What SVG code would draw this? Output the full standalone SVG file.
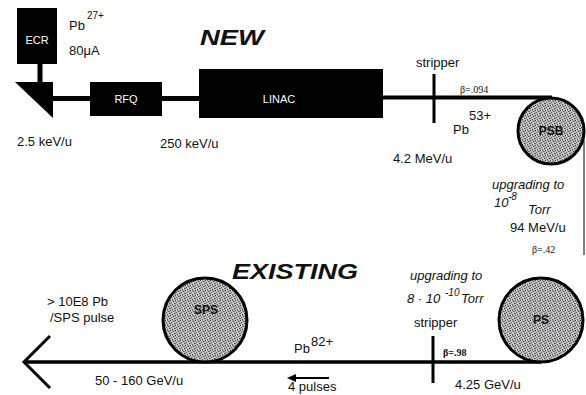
<svg xmlns="http://www.w3.org/2000/svg" width="586" height="395" viewBox="0 0 586 395">
<defs>
<pattern id="stip" width="5" height="5" patternUnits="userSpaceOnUse">
<rect width="5" height="5" fill="#bdbdbd"/>
<rect x="0" y="0" width="1" height="1" fill="#333"/>
<rect x="3" y="1" width="1" height="1" fill="#555"/>
<rect x="1" y="2" width="1" height="1" fill="#666"/>
<rect x="4" y="3" width="1" height="1" fill="#444"/>
<rect x="2" y="4" width="1" height="1" fill="#555"/>
<rect x="2" y="0" width="1" height="1" fill="#777"/>
<rect x="4" y="1" width="1" height="1" fill="#888"/>
<rect x="0" y="3" width="1" height="1" fill="#777"/>
<rect x="3" y="3" width="1" height="1" fill="#e0e0e0"/>
<rect x="1" y="0" width="1" height="1" fill="#e6e6e6"/>
</pattern>
</defs>
<style>
text{font-family:"Liberation Sans",Arial,sans-serif;font-size:13px;fill:#111}
.w{fill:#fff;font-size:11px}
.it{font-style:italic}
.big{font-size:22px;font-weight:bold;font-style:italic}
.sup{font-size:10px}
.ser{font-family:"Liberation Serif","Times New Roman",serif;font-size:10px}
.blk{fill:#000}
.ring{fill:url(#stip);stroke:#000;stroke-width:3}
.beam{stroke:#000;fill:none}
.lbl{font-weight:bold;font-size:12px;text-anchor:middle}
</style>
<rect width="586" height="395" fill="#fff"/>

<g id="connectors">
<line class="beam" x1="40" y1="63" x2="40" y2="83" stroke-width="5"/>
<line class="beam" x1="52" y1="98.5" x2="91" y2="98.5" stroke-width="5"/>
<line class="beam" x1="161" y1="98.5" x2="200" y2="98.5" stroke-width="5"/>
<line class="beam" x1="382" y1="97.5" x2="552" y2="97.5" stroke-width="4"/>
<line class="beam" x1="584" y1="140" x2="584" y2="255" stroke-width="1"/>
<line class="beam" x1="24" y1="362" x2="541" y2="362" stroke-width="3.5"/>
<polyline class="beam" points="50,336 24,362 50,388" stroke-width="3"/>
<line class="beam" x1="329" y1="378" x2="291" y2="378" stroke-width="2"/>
<polygon class="blk" points="287,378 296,374 296,382"/>
</g>

<g id="ecr">
<rect class="blk" x="17" y="8" width="40" height="56"/>
<text class="w" x="37" y="44" text-anchor="middle" font-size="12">ECR</text>
</g>
<g id="bend">
<polygon class="blk" points="15,82 53,82 53,118"/>
</g>
<g id="rfq">
<rect class="blk" x="90" y="82" width="72" height="34"/>
<text class="w" x="126" y="103" text-anchor="middle">RFQ</text>
</g>
<g id="linac">
<rect class="blk" x="199" y="69" width="184" height="49"/>
<text class="w" x="279" y="103" text-anchor="middle">LINAC</text>
</g>
<g id="stripper1">
<rect class="blk" x="432.5" y="74" width="3" height="49"/>
</g>
<g id="psb">
<circle class="ring" cx="551" cy="131" r="33"/>
<text class="lbl" x="551" y="135">PSB</text>
</g>
<g id="ps">
<circle class="ring" cx="541" cy="320" r="42"/>
<text class="lbl" x="541" y="324">PS</text>
</g>
<g id="stripper2">
<rect class="blk" x="431.5" y="336" width="3" height="47"/>
</g>
<g id="sps">
<circle class="ring" cx="205" cy="320" r="42"/>
<text class="lbl" x="206" y="314">SPS</text>
</g>

<g id="labels">
<text x="69" y="30">Pb</text>
<text class="sup" x="87" y="19">27+</text>
<text x="69" y="55" font-size="12">80μA</text>
<text class="big" x="200" y="45" textLength="64" lengthAdjust="spacingAndGlyphs">NEW</text>
<text x="17" y="146">2.5 keV/u</text>
<text x="160" y="148">250 keV/u</text>
<text x="416" y="67">stripper</text>
<text class="ser" x="460" y="93">β=.094</text>
<text x="453" y="134">Pb</text>
<text x="469" y="120">53+</text>
<text x="393" y="163" font-size="14">4.2 MeV/u</text>
<text class="it" x="492" y="189">upgrading to</text>
<text class="it" x="494" y="207">10</text>
<text class="it sup" x="508" y="200">-8</text>
<text class="it" x="528" y="214">Torr</text>
<text x="510" y="232" font-size="14">94 MeV/u</text>
<text class="ser" x="532" y="253">β=.42</text>
<text class="big" x="232" y="279" textLength="126" lengthAdjust="spacingAndGlyphs">EXISTING</text>
<text class="it" x="410" y="280">upgrading to</text>
<text class="it" x="407" y="303">8 · 10</text>
<text class="it sup" x="445" y="296">-10</text>
<text class="it" x="461" y="303">Torr</text>
<text x="414" y="327">stripper</text>
<text class="ser" x="443" y="356" font-weight="bold">β=.98</text>
<text x="455" y="389" font-size="14">4.25 GeV/u</text>
<text x="47" y="306" font-size="12">&gt; 10E8 Pb</text>
<text x="50" y="322" font-size="12">/SPS pulse</text>
<text x="95" y="385" font-size="12">50 - 160 GeV/u</text>
<text x="294" y="353" font-size="12">Pb</text>
<text x="311" y="346" font-size="12">82+</text>
<text x="288" y="391">4 pulses</text>
</g>
</svg>
